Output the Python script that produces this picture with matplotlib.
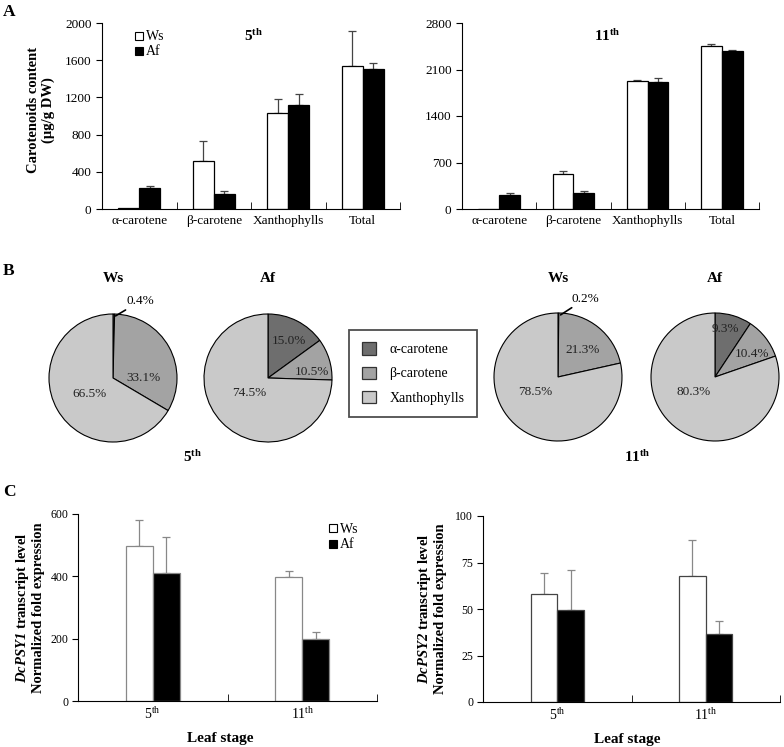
import numpy as np
import matplotlib
matplotlib.use("Agg")
import matplotlib.pyplot as plt
from matplotlib.patches import Patch
from matplotlib.lines import Line2D

plt.rcParams['font.family'] = 'Liberation Serif'
plt.rcParams['mathtext.fontset'] = 'custom'
plt.rcParams['mathtext.rm'] = 'Liberation Serif'
plt.rcParams['mathtext.it'] = 'Liberation Serif:italic'
plt.rcParams['mathtext.bf'] = 'Liberation Serif:bold'
plt.rcParams['mathtext.bfit'] = 'Liberation Serif:italic:bold'

W, H = 784, 747

# --- panel A: carotenoid content (ug/g DW) ---
groups = ['α-carotene', 'β-carotene', 'Xanthophylls', 'Total']
ws_5 = [15, 512, 1027, 1542]
ws_5_err = [0, 214, 161, 368]
af_5 = [229, 161, 1120, 1506]
af_5_err = [18, 36, 118, 68]
ws_11 = [0, 525, 1930, 2455]
ws_11_err = [0, 40, 5, 35]
af_11 = [215, 245, 1915, 2385]
af_11_err = [25, 25, 50, 5]

# --- panel B: composition (%) ---
pie_names = ['α-carotene', 'β-carotene', 'Xanthophylls']
pie_ws_5 = [0.4, 33.1, 66.5]
pie_af_5 = [15.0, 10.5, 74.5]
pie_ws_11 = [0.2, 21.3, 78.5]
pie_af_11 = [9.3, 10.4, 80.3]

# --- panel C: PSY expression ---
stages = ['5$^{\\rm th}$', '11$^{\\rm th}$']
psy1_ws = [498, 399]
psy1_ws_err = [84, 19]
psy1_af = [410, 200]
psy1_af_err = [115, 20]
psy2_ws = [57.8, 67.9]
psy2_ws_err = [11.8, 19.0]
psy2_af = [49.7, 36.3]
psy2_af_err = [21.4, 7.3]


def box(x0, y0, x1, y1):
    return [x0 / W, 1 - y1 / H, (x1 - x0) / W, (y1 - y0) / H]


def bar_panel(ax, n, ws, ws_err, af, af_err, width, edge, ecol):
    x = np.arange(n)
    ax.bar(x - width / 2, ws, width, color='white', edgecolor=edge, lw=0.9, zorder=2)
    ax.bar(x + width / 2, af, width, color='black', edgecolor=edge, lw=0.9, zorder=2)
    for xs, vals, errs in [(x - width / 2, ws, ws_err), (x + width / 2, af, af_err)]:
        for xi, v, e in zip(xs, vals, errs):
            if e > 0:
                ax.errorbar(xi, v, yerr=[[0], [e]], fmt='none', ecolor=ecol,
                            elinewidth=0.9, capsize=3, capthick=0.9, zorder=1)
    ax.set_xlim(-0.5, n - 0.5)
    ax.spines['top'].set_visible(False)
    ax.spines['right'].set_visible(False)
    ax.set_xticks(x)
    ax.set_xticks(np.arange(n) + 0.5, minor=True)
    ax.tick_params(axis='x', which='major', length=0, labelsize=9.5, pad=4)
    ax.tick_params(axis='x', which='minor', direction='in', length=5)
    ax.tick_params(axis='y', direction='out', length=4, labelsize=9.5)


def sq_legend(ax, anchor):
    h = [Line2D([], [], marker='s', ls='none', mfc='white', mec='black', ms=6, mew=0.8),
         Line2D([], [], marker='s', ls='none', mfc='black', mec='black', ms=6, mew=0.8)]
    ax.legend(h, ['Ws', 'Af'], loc='upper left', bbox_to_anchor=anchor, frameon=False,
              handlelength=0.6, handletextpad=0.2, labelspacing=0.15, fontsize=10,
              borderaxespad=0)


fig = plt.figure(figsize=(W / 100, H / 100), dpi=100)

# ---------------- A ----------------
axA1 = fig.add_axes(box(102, 23, 400, 209))
bar_panel(axA1, 4, ws_5, ws_5_err, af_5, af_5_err, 0.28, 'black', '#444444')
axA1.set_ylim(0, 2000)
axA1.set_yticks(np.arange(0, 2001, 400))
axA1.set_xticklabels(groups)
axA1.set_ylabel('Carotenoids content\n(µg/g DW)', fontsize=10.5, fontweight='bold',
                linespacing=1.1)
axA1.yaxis.set_label_coords(-0.158, 0.53)
axA1.text(0.51, 0.93, r'$\mathbf{5^{th}}$', transform=axA1.transAxes, ha='center',
          va='center', fontsize=11)
sq_legend(axA1, (0.09, 0.99))

axA2 = fig.add_axes(box(462, 23, 759, 209))
bar_panel(axA2, 4, ws_11, ws_11_err, af_11, af_11_err, 0.28, 'black', '#444444')
axA2.set_ylim(0, 2800)
axA2.set_yticks(np.arange(0, 2801, 700))
axA2.set_xticklabels(groups)
axA2.text(0.49, 0.93, r'$\mathbf{11^{th}}$', transform=axA2.transAxes, ha='center',
          va='center', fontsize=11)

# ---------------- B ----------------
pie_colors = ['#6e6e6e', '#a3a3a3', '#c9c9c9']
R = 64
pies = [(pie_ws_5, 113, 378, 'Ws'), (pie_af_5, 268, 378, 'Af'),
        (pie_ws_11, 558, 377, 'Ws'), (pie_af_11, 715, 377, 'Af')]
label_pos = [
    [(0.36, 1.2), (0.47, 0.0), (-0.36, -0.25)],
    [(0.33, 0.58), (0.69, 0.09), (-0.30, -0.24)],
    [(0.36, 1.22), (0.39, 0.42), (-0.36, -0.23)],
    [(0.16, 0.75), (0.58, 0.36), (-0.34, -0.23)],
]
for (vals, cx, cy, name), lp in zip(pies, label_pos):
    half = R * 1.25
    ax = fig.add_axes(box(cx - half, cy - half, cx + half, cy + half))
    ax.pie(vals, colors=pie_colors, startangle=90, counterclock=False,
           wedgeprops=dict(edgecolor='black', linewidth=0.8))
    ax.set_xlim(-1.25, 1.25)
    ax.set_ylim(-1.25, 1.25)
    ax.set_aspect('equal')
    ax.axis('off')
    for v, (tx, ty) in zip(vals, lp):
        if v < 1:
            ax.annotate(f'{v:.1f}%', xy=(0.04, 0.97), xytext=(tx - 0.15, ty),
                        fontsize=9.5, ha='left', va='center',
                        arrowprops=dict(arrowstyle='-', lw=1.2, color='black',
                                        shrinkA=0, shrinkB=0))
        else:
            ax.text(tx, ty, f'{v:.1f}%', ha='center', va='center', fontsize=9.5,
                    color='#222222')
    fig.text(cx / W, 1 - 278 / H, name, ha='center', va='center', fontsize=11,
             fontweight='bold')

fig.text(193 / W, 1 - 457 / H, r'$\mathbf{5^{th}}$', ha='center', va='center', fontsize=11)
fig.text(637 / W, 1 - 457 / H, r'$\mathbf{11^{th}}$', ha='center', va='center', fontsize=11)

handles = [Patch(facecolor=c, edgecolor='#333333', lw=0.9) for c in pie_colors]
fig.legend(handles, pie_names, loc='center', bbox_to_anchor=(413 / W, 1 - 373.5 / H),
           fontsize=10, frameon=True, fancybox=False, edgecolor='#222222',
           handlelength=1.0, handleheight=1.0, handletextpad=1.0, labelspacing=0.75,
           borderpad=0.9, borderaxespad=0).get_frame().set_linewidth(1.3)

# ---------------- C ----------------
axC1 = fig.add_axes(box(78, 514, 377, 701))
bar_panel(axC1, 2, psy1_ws, psy1_ws_err, psy1_af, psy1_af_err, 0.18, '#888888', '#888888')
axC1.set_ylim(0, 600)
axC1.set_yticks([0, 200, 400, 600])
axC1.set_xticklabels(stages, fontsize=10)
axC1.tick_params(axis='y', labelsize=8.5, pad=3)
axC1.set_ylabel(r'$\mathbfit{DcPSY1}$ transcript level' + '\nNormalized fold expression',
                fontsize=10.5, fontweight='bold', linespacing=1.1)
axC1.yaxis.set_label_coords(-0.11, 0.5)
axC1.set_xlabel('Leaf stage', fontsize=11, fontweight='bold')
axC1.xaxis.set_label_coords(0.475, -0.165)
sq_legend(axC1, (0.82, 0.98))

axC2 = fig.add_axes(box(483, 516, 780, 702))
bar_panel(axC2, 2, psy2_ws, psy2_ws_err, psy2_af, psy2_af_err, 0.18, '#444444', '#888888')
axC2.set_ylim(0, 100)
axC2.set_yticks([0, 25, 50, 75, 100])
axC2.set_xticklabels(stages, fontsize=10)
axC2.tick_params(axis='y', labelsize=8.5, pad=3)
axC2.set_ylabel(r'$\mathbfit{DcPSY2}$ transcript level' + '\nNormalized fold expression',
                fontsize=10.5, fontweight='bold', linespacing=1.1)
axC2.yaxis.set_label_coords(-0.12, 0.5)
axC2.set_xlabel('Leaf stage', fontsize=11, fontweight='bold')
axC2.xaxis.set_label_coords(0.485, -0.165)

for lab, y in [('A', 12), ('B', 271), ('C', 492)]:
    fig.text(3 / W, 1 - y / H, lab, ha='left', va='center', fontsize=12.5, fontweight='bold')

fig.savefig('out.png', dpi=100)
